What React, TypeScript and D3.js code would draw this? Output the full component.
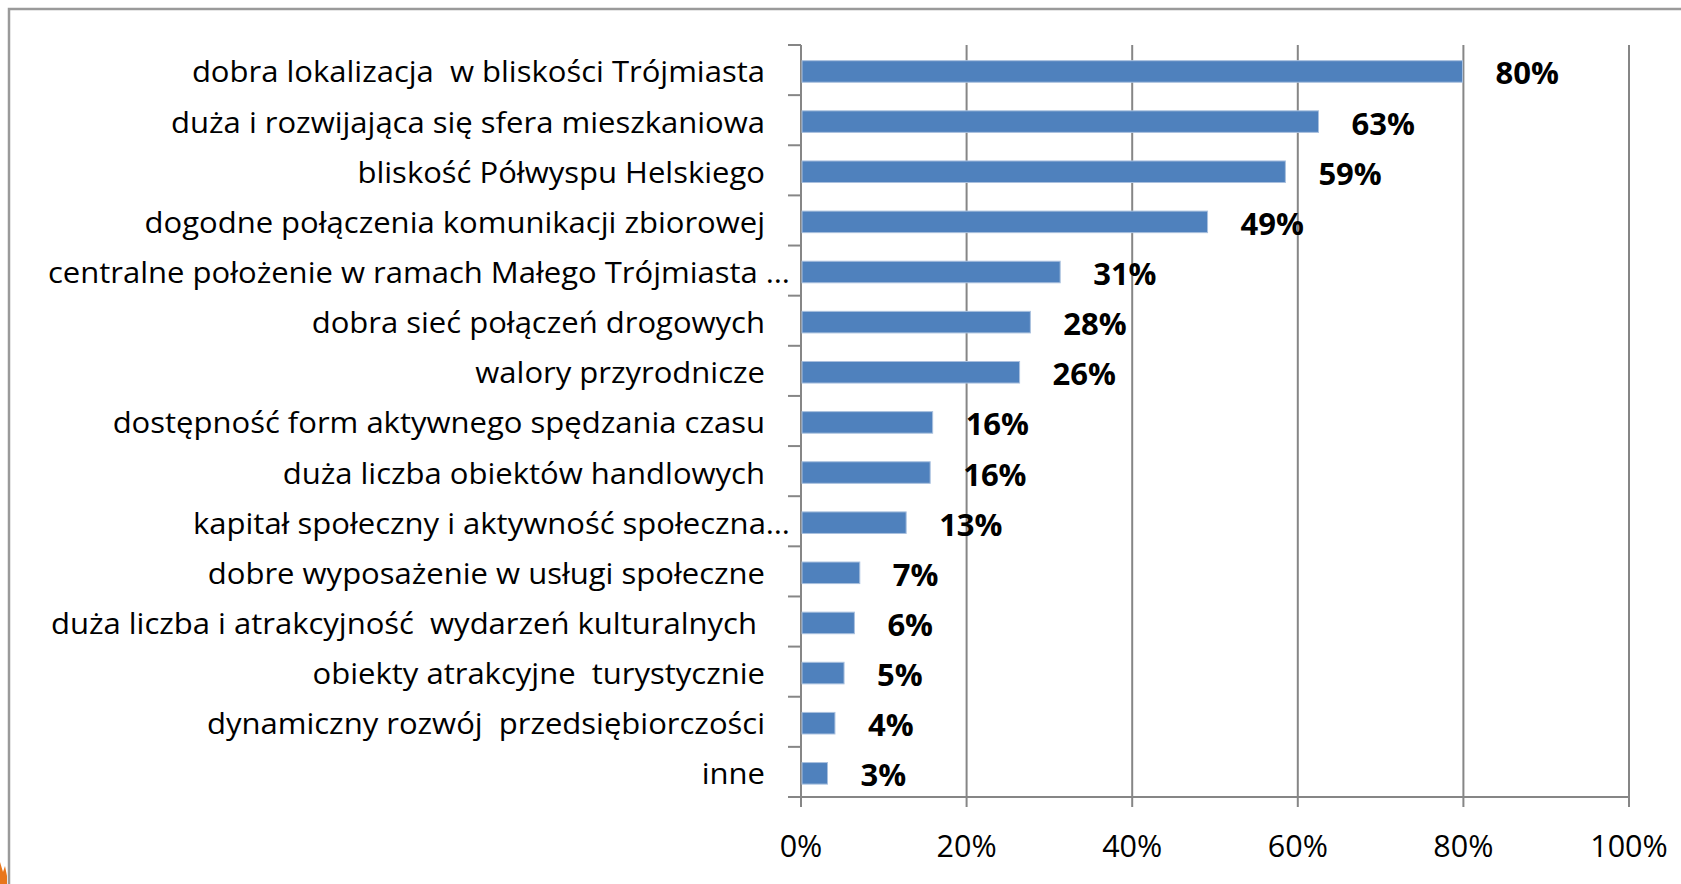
import React from "react";
import * as d3 from "d3";

const categories: string[] = [
  "dobra lokalizacja  w bliskości Trójmiasta",
  "duża i rozwijająca się sfera mieszkaniowa",
  "bliskość Półwyspu Helskiego",
  "dogodne połączenia komunikacji zbiorowej",
  "centralne położenie w ramach Małego Trójmiasta …",
  "dobra sieć połączeń drogowych",
  "walory przyrodnicze",
  "dostępność form aktywnego spędzania czasu",
  "duża liczba obiektów handlowych",
  "kapitał społeczny i aktywność społeczna…",
  "dobre wyposażenie w usługi społeczne",
  "duża liczba i atrakcyjność  wydarzeń kulturalnych ",
  "obiekty atrakcyjne  turystycznie",
  "dynamiczny rozwój  przedsiębiorczości",
  "inne",
];

const values: number[] = [79.9, 62.5, 58.5, 49.1, 31.3, 27.7, 26.4, 15.9, 15.6, 12.7, 7.1, 6.45, 5.2, 4.1, 3.2];
const valueLabels: string[] = ["80%", "63%", "59%", "49%", "31%", "28%", "26%", "16%", "16%", "13%", "7%", "6%", "5%", "4%", "3%"];
const xTicks: number[] = [0, 20, 40, 60, 80, 100];

const W = 1681;
const H = 884;
const left = 801;
const right = 1629;
const top = 45;
const bottom = 797;

export default function App() {
  const x = d3.scaleLinear().domain([0, 100]).range([left, right]);
  const y = d3
    .scaleBand<string>()
    .domain(categories)
    .range([top + 1.4, bottom + 1.4])
    .paddingInner(0.57)
    .paddingOuter(0.285);
  const step = (bottom - top) / categories.length;
  const axisColor = "#868686";
  const font = "'Open Sans', sans-serif";

  return (
    <svg
      width={W}
      height={H}
      style={{ position: "absolute", left: 0, top: 0, display: "block", background: "#fff" }}
    >
      <rect x={9} y={9} width={W + 20} height={H + 20} fill="#fff" stroke="#9a9a9a" strokeWidth={2.5} />
      <path d="M0,862 L3,872 L5,866 L7,876 L7,884 L0,884 Z" fill="#e8761c" />

      {xTicks.map((t) => (
        <line key={"g" + t} x1={x(t)} x2={x(t)} y1={top} y2={bottom + 10} stroke={axisColor} strokeWidth={2} />
      ))}
      {d3.range(categories.length + 1).map((i) => (
        <line key={"ct" + i} x1={788} x2={left} y1={top + i * step} y2={top + i * step} stroke={axisColor} strokeWidth={2} />
      ))}
      <line x1={left} x2={left} y1={top} y2={bottom + 10} stroke={axisColor} strokeWidth={2} />
      <line x1={left} x2={right} y1={bottom} y2={bottom} stroke={axisColor} strokeWidth={2} />

      {categories.map((c, i) => (
        <rect
          key={"b" + i}
          x={x(0) + 1}
          y={y(c)!}
          width={x(values[i]) - x(0) - 1}
          height={y.bandwidth()}
          fill="#4f81bd"
          stroke="#a9c0de"
          strokeWidth={1}
        />
      ))}

      {categories.map((c, i) => (
        <text
          key={"v" + i}
          x={x(values[i]) + 33}
          y={y(c)! + y.bandwidth() / 2 + 13}
          fontFamily={font}
          fontWeight="bold"
          fontSize={31}
          fill="#000"
        >
          {valueLabels[i]}
        </text>
      ))}

      {categories.map((c, i) => (
        <text
          key={"c" + i}
          transform={`translate(${c.endsWith("…") ? 790 : 765},${y(c)! + y.bandwidth() / 2 + 11}) scale(1.07,1)`}
          textAnchor="end"
          fontFamily={font}
          fontSize={29}
          fill="#000"
          style={{ whiteSpace: "pre" }}
        >
          {c}
        </text>
      ))}

      {xTicks.map((t) => (
        <text key={"xt" + t} x={x(t)} y={857} textAnchor="middle" fontFamily={font} fontSize={30.5} fill="#000">
          {t + "%"}
        </text>
      ))}
    </svg>
  );
}
